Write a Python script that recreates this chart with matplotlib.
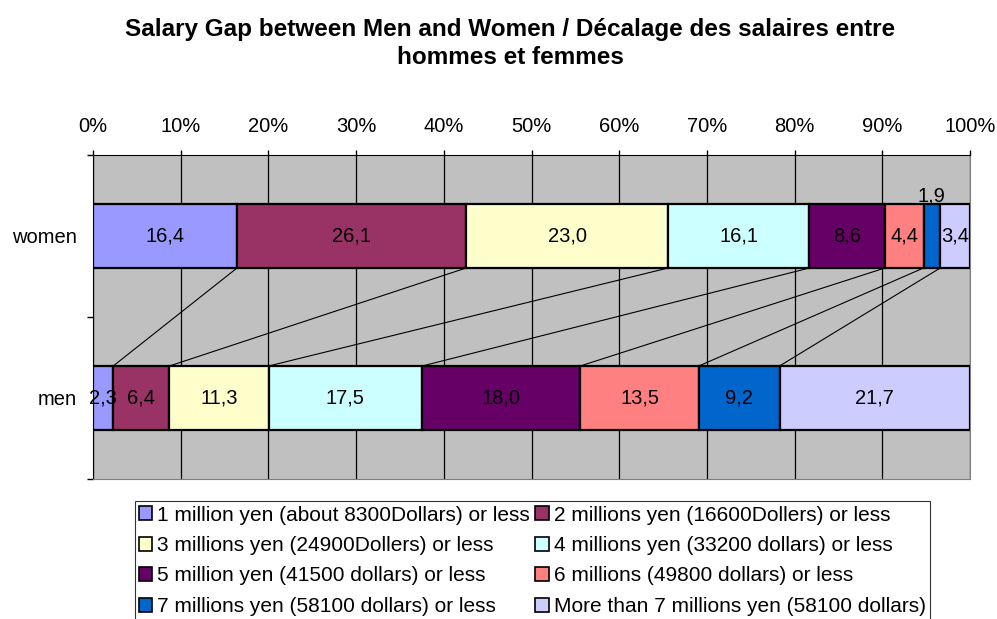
import numpy as np
import matplotlib
matplotlib.use("Agg")
import matplotlib.pyplot as plt
from matplotlib.patches import Patch

plt.rcParams['font.family'] = ['Liberation Sans', 'DejaVu Sans']

# data (percent shares per salary bracket)
groups = ["men", "women"]
brackets = [
    "1 million yen (about 8300Dollars) or less",
    "2 millions yen (16600Dollers) or less",
    "3 millions yen (24900Dollers) or less",
    "4 millions yen (33200 dollars) or less",
    "5 million yen (41500 dollars) or less",
    "6 millions (49800 dollars) or less",
    "7 millions yen (58100 dollars) or less",
    "More than 7 millions yen (58100 dollars)",
]
women = [16.4, 26.1, 23.0, 16.1, 8.6, 4.4, 1.9, 3.4]
men = [2.3, 6.4, 11.3, 17.5, 18.0, 13.5, 9.2, 21.7]
colors = ["#9999FF", "#993366", "#FFFFCC", "#CCFFFF",
          "#660066", "#FF8080", "#0066CC", "#CCCCFF"]

fig = plt.figure(figsize=(9.97, 6.19), dpi=100)
ax = fig.add_axes([0.0933, 0.2262, 0.8797, 0.5234])
ax.set_facecolor("#C0C0C0")

bar_h = 0.395
vals = np.array([men, women])
shares = vals / vals.sum(axis=1, keepdims=True)
left = np.zeros(2)
for i, name in enumerate(brackets):
    bars = ax.barh([0, 1], shares[:, i], left=left, height=bar_h,
                   color=colors[i], edgecolor="black", linewidth=1.6,
                   label=name, zorder=3)
    for j, b in enumerate(bars):
        txt = f"{vals[j, i]:.1f}".replace(".", ",")
        cx = b.get_x() + b.get_width() / 2
        if j == 1 and i == 6:
            ax.annotate(txt, (cx, 1), xytext=(0, 29), textcoords="offset points",
                        ha="center", va="center", fontsize=14.5, zorder=5)
        else:
            ax.text(cx, j, txt, ha="center", va="center", fontsize=14.5, zorder=5)
    left = left + shares[:, i]

# series lines between stacked boundaries
cw = np.cumsum(shares[1])[:-1]
cm = np.cumsum(shares[0])[:-1]
for a, b in zip(cw, cm):
    ax.plot([a, b], [1 - bar_h / 2, bar_h / 2], color="black", lw=0.8, zorder=4)

ax.set_xlim(0, 1)
ax.set_ylim(-0.5, 1.5)
ax.xaxis.tick_top()
ax.set_xticks(np.arange(0, 1.01, 0.1))
ax.set_xticklabels([f"{int(round(t * 100))}%" for t in np.arange(0, 1.01, 0.1)],
                   fontsize=14.5)
ax.tick_params(axis="x", length=3.6, width=1, pad=10, direction="out")
ax.grid(axis="x", color="black", lw=0.9, zorder=1)

ax.set_yticks([0, 1])
ax.set_yticklabels(groups, fontsize=14.5)
ax.tick_params(axis="y", length=0, pad=11.5)
ax.set_yticks([-0.5, 0.5, 1.5], minor=True)
ax.tick_params(axis="y", which="minor", length=4.3, width=1, direction="out")

for s in ["left", "top"]:
    ax.spines[s].set_color("black")
for s in ["right", "bottom"]:
    ax.spines[s].set_color("#808080")

fig.text(0.512, 0.93, "Salary Gap between Men and Women / Décalage des salaires entre\nhommes et femmes",
         ha="center", va="center", fontsize=17.5, fontweight="bold", linespacing=1.3)

handles = [Patch(facecolor=c, edgecolor="black", linewidth=1.2) for c in colors]
order = [0, 2, 4, 6, 1, 3, 5, 7]
leg = fig.legend([handles[k] for k in order], [brackets[k] for k in order],
                 ncol=2, loc="upper center", bbox_to_anchor=(0.534, 0.19),
                 fontsize=15, frameon=True, fancybox=False, edgecolor="black",
                 handlelength=0.65, handleheight=0.65, handletextpad=0.25,
                 columnspacing=0.25, labelspacing=0.55, borderpad=0.2,
                 borderaxespad=0)
leg.get_frame().set_linewidth(0.8)

fig.savefig("out.png", dpi=100)
